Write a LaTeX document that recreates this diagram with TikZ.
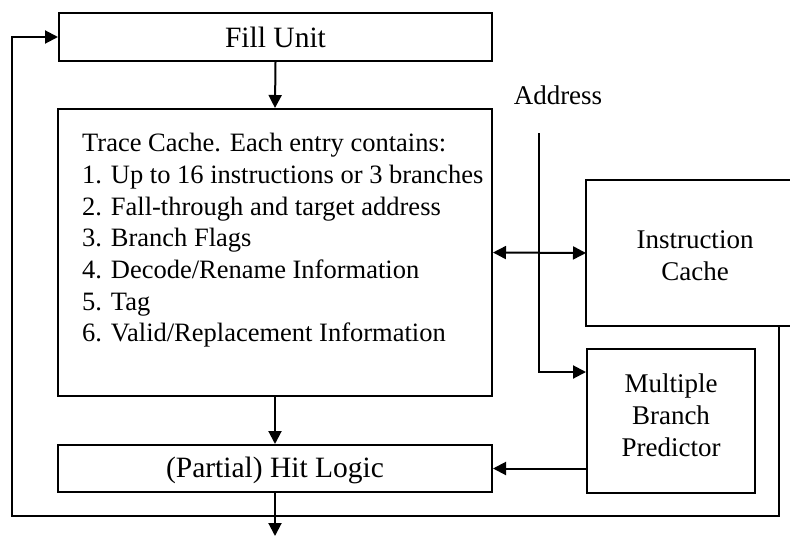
\documentclass[tikz,border=0pt]{standalone}
\usepackage{fontspec}
\setmainfont{Liberation Serif}
\usetikzlibrary{arrows.meta,calc}
\begin{document}
\begin{tikzpicture}[x=1pt,y=-1pt,
  box/.style={draw,line width=2pt,inner sep=0pt,rectangle,font=\fontsize{27}{32}\selectfont,align=center},
  bigbox/.style={box,font=\fontsize{29.5}{34}\selectfont},
  lbl/.style={inner sep=0pt,font=\fontsize{27}{32}\selectfont,align=center},
  conn/.style={line width=2pt,-{Triangle[length=13pt,width=13pt]}},
  dconn/.style={line width=2pt,{Triangle[length=13pt,width=13pt]}-{Triangle[length=13pt,width=13pt]}},
  wire/.style={line width=2pt}]
\useasboundingbox (0,0) rectangle (790,536);
% boxes
\node[bigbox,minimum width=433pt,minimum height=48pt] (fill) at (275.5,37) {Fill Unit};
\node[box,minimum width=434pt,minimum height=287pt] (tc) at (275,252.5) {};
\node[lbl,align=left,anchor=west,font=\fontsize{26.5}{31.7}\selectfont] (tctext) at (82,240.5) {Trace Cache. Each entry contains:\\
1. Up to 16 instructions or 3 branches\\
2. Fall-through and target address\\
3. Branch Flags\\
4. Decode/Rename Information\\
5. Tag\\
6. Valid/Replacement Information};
\node[bigbox,minimum width=434pt,minimum height=47pt] (hit) at (275,468.5) {};
\node[lbl,font=\fontsize{29.5}{34}\selectfont] (hittext) at (275,470) {(Partial) Hit Logic};
\node[box,draw=none,minimum width=216pt,minimum height=144pt] (ic) at (695,253) {};
\node[lbl] (ictext) at (695,256) {Instruction\\Cache};
\draw[wire] (ic.north east) -- (ic.north west) -- (ic.south west) -- (ic.south east);
\node[box,minimum width=168pt,minimum height=144pt] (mbp) at (671,421) {};
\node[lbl] (mbptext) at (671,415) {Multiple\\Branch\\Predictor};
\node[lbl] (addr) at (558,95) {Address};
% coordinates
\coordinate (addrtop) at (539,133);
\coordinate (rloop) at (779,325);
\coordinate (bl) at (12,516);
\coordinate (out) at (275,536);
% connectors
\draw[conn] (fill.south) -- (tc.north);
\draw[conn] (tc.south) -- (hit.north);
\draw[dconn] (tc.east) -- (ic.west);
\draw[conn] (addrtop) |- ($(mbp.north west)+(0,24)$);
\draw[conn] (mbp.west |- hit.east) -- (hit.east);
\draw[conn] (rloop) |- (bl) |- (fill.west);
\draw[conn] (hit.south) -- (out);
\end{tikzpicture}
\end{document}
